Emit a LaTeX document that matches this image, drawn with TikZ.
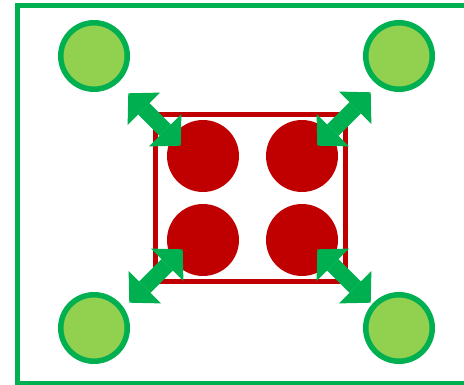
\documentclass[tikz,border=0pt]{standalone}
\usepackage{xcolor}
\usetikzlibrary{arrows.meta,positioning}
\definecolor{ringgreen}{HTML}{00B050}
\definecolor{leafgreen}{HTML}{92D050}
\definecolor{corered}{HTML}{C00000}
\begin{document}
\begin{tikzpicture}[x=1pt,y=-1pt,
  cell/.style={circle,draw=ringgreen,line width=5.5pt,fill=leafgreen,minimum size=66.5pt,inner sep=0pt},
  core/.style={circle,fill=corered,minimum size=72pt,inner sep=0pt},
  cage/.style={draw=corered,line width=5pt,minimum width=190pt,minimum height=167pt,inner sep=0pt},
  push/.style={draw=ringgreen,line width=16pt,
    {Triangle[length=22pt,width=46pt,line width=0pt]}-{Triangle[length=22pt,width=46pt,line width=0pt]}}]
\useasboundingbox (0,0) rectangle (464,385);
\clip (0,0) rectangle (464,385);
% outer frame
\draw[ringgreen,line width=5pt] (17.5,5.8) rectangle (480,383.5);
% outer cells
\node[cell] (c1) at (94,56) {};
\node[cell] (c2) at (399,56) {};
\node[cell] (c3) at (94,328) {};
\node[cell] (c4) at (399,328) {};
% inner cage
\node[cage] (box) at (250.4,198.3) {};
\node[core] (k1) at (203,156) {};
\node[core] (k2) at (302,156) {};
\node[core] (k3) at (203,240) {};
\node[core] (k4) at (302,240) {};
% arrow ends
\coordinate (a1) at (128.3,93.3);  \coordinate (b1) at (180.7,145.7);
\coordinate (a2) at (370.7,92.3);  \coordinate (b2) at (317.3,145.7);
\coordinate (a3) at (129.3,302.7); \coordinate (b3) at (182.7,249.3);
\coordinate (a4) at (370.7,302.7); \coordinate (b4) at (317.3,249.3);
\draw[push] (a1)--(b1); \draw[push] (a2)--(b2);
\draw[push] (a3)--(b3); \draw[push] (a4)--(b4);
\end{tikzpicture}
\end{document}
